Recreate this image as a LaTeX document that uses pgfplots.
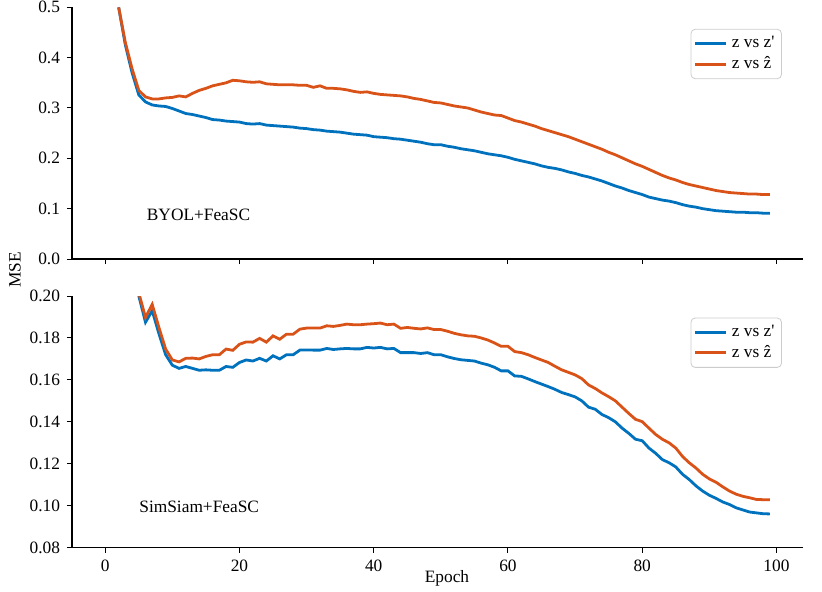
\documentclass[border=0pt]{standalone}
\usepackage{pgfplots}
\pgfplotsset{compat=1.18}
\usepackage{fontspec}
\setmainfont{Liberation Serif}
\definecolor{mblue}{HTML}{0072BD}
\definecolor{morange}{HTML}{D95319}

\pgfplotstableread{
x top
2 0.500
3 0.425
4 0.370
5 0.326
6 0.312
7 0.306
8 0.304
9 0.303
10 0.299
11 0.294
12 0.289
13 0.287
14 0.284
15 0.281
16 0.277
17 0.276
18 0.274
19 0.273
20 0.272
21 0.269
22 0.268
23 0.269
24 0.266
25 0.265
26 0.264
27 0.263
28 0.262
29 0.260
30 0.259
31 0.257
32 0.256
33 0.254
34 0.253
35 0.252
36 0.250
37 0.248
38 0.247
39 0.246
40 0.243
41 0.242
42 0.241
43 0.239
44 0.238
45 0.236
46 0.234
47 0.232
48 0.229
49 0.227
50 0.227
51 0.224
52 0.222
53 0.219
54 0.217
55 0.215
56 0.212
57 0.209
58 0.207
59 0.205
60 0.202
61 0.198
62 0.195
63 0.192
64 0.189
65 0.185
66 0.182
67 0.180
68 0.177
69 0.173
70 0.170
71 0.166
72 0.163
73 0.159
74 0.155
75 0.150
76 0.145
77 0.141
78 0.136
79 0.132
80 0.128
81 0.123
82 0.120
83 0.117
84 0.115
85 0.112
86 0.108
87 0.105
88 0.103
89 0.100
90 0.098
91 0.096
92 0.095
93 0.094
94 0.093
95 0.093
96 0.092
97 0.092
98 0.091
99 0.091
}\byolzp

\pgfplotstableread{
x top
2 0.500
3 0.430
4 0.378
5 0.335
6 0.322
7 0.318
8 0.318
9 0.320
10 0.321
11 0.324
12 0.322
13 0.329
14 0.335
15 0.339
16 0.344
17 0.347
18 0.350
19 0.355
20 0.354
21 0.352
22 0.351
23 0.352
24 0.348
25 0.347
26 0.346
27 0.346
28 0.346
29 0.345
30 0.345
31 0.341
32 0.344
33 0.339
34 0.339
35 0.338
36 0.336
37 0.333
38 0.331
39 0.332
40 0.329
41 0.327
42 0.326
43 0.325
44 0.324
45 0.322
46 0.319
47 0.317
48 0.314
49 0.311
50 0.310
51 0.307
52 0.304
53 0.302
54 0.300
55 0.296
56 0.292
57 0.289
58 0.286
59 0.285
60 0.280
61 0.275
62 0.272
63 0.268
64 0.264
65 0.259
66 0.255
67 0.251
68 0.247
69 0.243
70 0.238
71 0.233
72 0.228
73 0.223
74 0.218
75 0.212
76 0.207
77 0.201
78 0.195
79 0.189
80 0.184
81 0.178
82 0.172
83 0.166
84 0.161
85 0.157
86 0.152
87 0.148
88 0.145
89 0.142
90 0.139
91 0.136
92 0.134
93 0.132
94 0.131
95 0.130
96 0.129
97 0.129
98 0.128
99 0.128
}\byolzh

\pgfplotstableread{
x bot
5 0.200
6 0.1875
7 0.193
8 0.182
9 0.172
10 0.167
11 0.1655
12 0.1664
13 0.1655
14 0.1646
15 0.1648
16 0.1646
17 0.1646
18 0.1664
19 0.166
20 0.1683
21 0.1695
22 0.169
23 0.1703
24 0.169
25 0.1715
26 0.170
27 0.172
28 0.172
29 0.1742
30 0.1743
31 0.1742
32 0.1742
33 0.175
34 0.1745
35 0.1748
36 0.175
37 0.1748
38 0.1748
39 0.1755
40 0.1752
41 0.1755
42 0.1748
43 0.175
44 0.173
45 0.173
46 0.173
47 0.1726
48 0.173
49 0.172
50 0.172
51 0.171
52 0.1702
53 0.1696
54 0.1693
55 0.169
56 0.168
57 0.1672
58 0.166
59 0.1643
60 0.1643
61 0.1619
62 0.1617
63 0.1605
64 0.1592
65 0.158
66 0.1568
67 0.1555
68 0.154
69 0.153
70 0.1519
71 0.150
72 0.147
73 0.146
74 0.1435
75 0.142
76 0.140
77 0.137
78 0.1345
79 0.1317
80 0.131
81 0.1275
82 0.125
83 0.122
84 0.1205
85 0.1185
86 0.115
87 0.1125
88 0.1095
89 0.107
90 0.105
91 0.1035
92 0.1018
93 0.1006
94 0.099
95 0.098
96 0.097
97 0.0966
98 0.0962
99 0.0961
}\simzp

\pgfplotstableread{
x bot
5 0.2015
6 0.1898
7 0.196
8 0.185
9 0.1747
10 0.1695
11 0.1686
12 0.1703
13 0.1704
14 0.170
15 0.1712
16 0.172
17 0.172
18 0.1747
19 0.1741
20 0.177
21 0.1781
22 0.178
23 0.1798
24 0.178
25 0.181
26 0.1794
27 0.1818
28 0.1818
29 0.1842
30 0.1847
31 0.1847
32 0.1847
33 0.1858
34 0.1855
35 0.186
36 0.1866
37 0.1863
38 0.1863
39 0.1866
40 0.1868
41 0.1871
42 0.1863
43 0.1866
44 0.1846
45 0.185
46 0.1846
47 0.1843
48 0.1848
49 0.184
50 0.184
51 0.1832
52 0.1822
53 0.1815
54 0.181
55 0.1808
56 0.180
57 0.179
58 0.1776
59 0.176
60 0.176
61 0.1735
62 0.173
63 0.172
64 0.1707
65 0.1695
66 0.1683
67 0.1665
68 0.1648
69 0.1636
70 0.1624
71 0.1606
72 0.1576
73 0.1559
74 0.1538
75 0.152
76 0.150
77 0.147
78 0.144
79 0.1412
80 0.1401
81 0.137
82 0.134
83 0.1317
84 0.130
85 0.1275
86 0.1235
87 0.1205
88 0.118
89 0.115
90 0.1128
91 0.1112
92 0.109
93 0.107
94 0.1055
95 0.1045
96 0.1038
97 0.103
98 0.1029
99 0.1029
}\simzh

\pgfplotsset{
  msepanel/.style={
    scale only axis, width=365.5bp, height=125.85bp,
    xmin=-4.95, xmax=103.95,
    axis x line*=bottom, axis y line*=left,
    tick align=outside, tick style={black, line width=0.5pt},
    major tick length=2.5bp,
    axis line style={line width=0.6pt},
    xtick={0,20,...,100},
    tick label style={font=\fontsize{8.7}{10}\selectfont},
    /pgf/number format/assume math mode=true,
    legend style={at={(0.971,0.914)}, anchor=north east, draw=black!20,
      rounded corners=2pt, font=\fontsize{8.7}{10}\selectfont,
      inner sep=1.5pt, row sep=-1pt},
    legend cell align=left,
    legend image code/.code={\draw[#1, line width=1.4pt] (0bp,0bp) -- (15.5bp,0bp);},
  },
  zp/.style={mblue, line width=1.4pt},
  zh/.style={morange, line width=1.4pt},
}

\begin{document}
\begin{tikzpicture}
\begin{axis}[msepanel, name=top, at={(0,0)}, anchor=north west,
  ymin=0, ymax=0.5, ytick={0,0.1,...,0.5}, xticklabels={},
  yticklabel style={/pgf/number format/.cd, fixed, fixed zerofill, precision=1}]
\addplot[zp] table[x=x, y=top] {\byolzp};
\addplot[zh] table[x=x, y=top] {\byolzh};
\legend{z vs z\textquotesingle,z vs \^{z}}
\node at (axis cs:13.9,0.0875) {\fontsize{8.7}{10}\selectfont BYOL+FeaSC};
\end{axis}
\begin{axis}[msepanel, name=bot, at={(0,-144.35bp)}, anchor=north west,
  ymin=0.08, ymax=0.2, ytick={0.08,0.10,...,0.20},
  yticklabel style={/pgf/number format/.cd, fixed, fixed zerofill, precision=2}]
\addplot[zp] table[x=x, y=bot] {\simzp};
\addplot[zh] table[x=x, y=bot] {\simzh};
\legend{z vs z\textquotesingle,z vs \^{z}}
\node at (axis cs:14,0.0995) {\fontsize{8.7}{10}\selectfont SimSiam+FeaSC};
\end{axis}
\node at (187.5bp,-285.35bp) {\fontsize{8.7}{10}\selectfont Epoch};
\node[rotate=90] at (-28.5bp,-131.35bp) {\fontsize{8.7}{10}\selectfont MSE};
\pgfresetboundingbox
\useasboundingbox (-36bp,3.65bp) rectangle (375bp,-292.35bp);
\end{tikzpicture}
\end{document}
